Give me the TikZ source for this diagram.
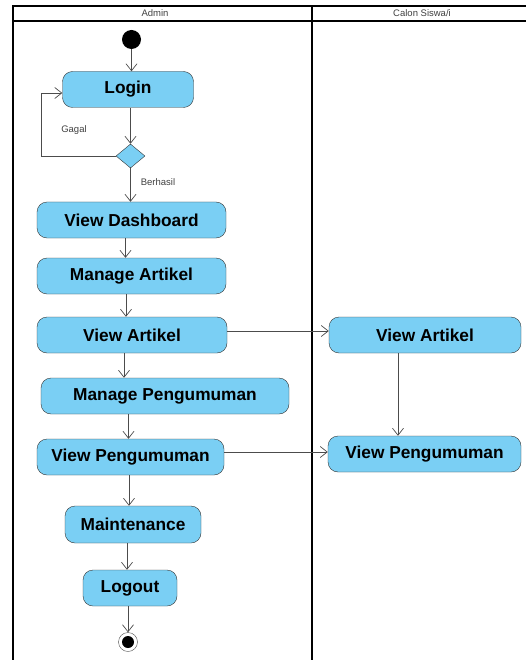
\documentclass[tikz,border=0pt]{standalone}
\usepackage{fontspec}
\setmainfont{Liberation Sans}
\usetikzlibrary{arrows.meta,shapes.geometric}

\tikzset{act/.style={draw=black!80,fill=actblue,rounded corners=10pt,font=\bfseries\fontsize{17.3}{20}\selectfont,minimum height=36pt,inner sep=0pt}}
\tikzset{flow/.style={->,>={Straight Barb[length=7pt,width=11pt]},draw=black!70,line width=0.7pt}}
\tikzset{small/.style={font=\fontsize{9.5}{11}\selectfont,text=black!75}}
\tikzset{lane/.style={line width=1.8pt}}
\definecolor{actblue}{HTML}{7ACFF4}

\begin{document}
\begin{tikzpicture}[x=1pt,y=-1pt]
        \useasboundingbox (0,0) rectangle (525,660);
        % swimlanes
        \draw[lane] (530,6) -- (13,6) -- (13,665);
        \draw[lane] (13,21) -- (530,21);
        \draw[lane] (312,6) -- (312,665);
        \node[small] (laneA) at (155,13.5) {Admin};
        \node[small] (laneB) at (422,13.5) {Calon Siswa/i};

        % admin lane
        \node[circle,fill=black,minimum size=19pt,inner sep=0pt] (start) at (131.5,39.5) {};
        \node[act,minimum width=131pt] (login) at (128,89.5) {Login};
        \node[diamond,draw=black!80,fill=actblue,minimum width=29pt,minimum height=24pt,inner sep=0pt] (dec) at (130.5,156) {};
        \node[act,minimum width=189pt] (dash) at (131.5,220) {View Dashboard};
        \node[act,minimum width=189pt] (mart) at (131.5,276) {Manage Artikel};
        \node[act,minimum width=190pt] (vart) at (132,335) {View Artikel};
        \node[act,minimum width=248pt] (mpeng) at (165,396) {Manage Pengumuman};
        \node[act,minimum width=187pt] (vpeng) at (130.5,457) {View Pengumuman};
        \node[act,minimum width=136pt,minimum height=37pt] (maint) at (133,524.5) {Maintenance};
        \node[act,minimum width=94pt] (logout) at (130,588) {Logout};
        \node[circle,draw=black!70,minimum size=19pt,inner sep=0pt] (stop) at (128,642) {};
        \node[circle,fill=black,minimum size=12pt,inner sep=0pt] at (stop) {};

        % siswa lane
        \node[act,minimum width=192pt] (vart2) at (425,335) {View Artikel};
        \node[act,minimum width=193pt] (vpeng2) at (424.5,454) {View Pengumuman};

        % flows
        \draw[flow] (start) -- (start |- login.north);
        \draw[flow] (login.south -| dec) -- (dec.north);
        \draw[flow] (dec.west) -- ++(-74,0) |- ([yshift=-3.5pt]login.west);
        \node[small] (gagal) at (74,130) {Gagal};
        \draw[flow] (dec.south) -- (dec.south |- dash.north);
        \node[small] (ok) at (158,182) {Berhasil};
        \draw[flow] ([xshift=-6pt]dash.south) -- ([xshift=-6pt]dash.south |- mart.north);
        \draw[flow] ([xshift=-5.5pt]mart.south) -- ([xshift=-5.5pt]mart.south |- vart.north);
        \draw[flow] ([xshift=-8pt]vart.south) -- ([xshift=-8pt]vart.south |- mpeng.north);
        \draw[flow] ([xshift=-2pt]vpeng.north |- mpeng.south) -- ([xshift=-2pt]vpeng.north);
        \draw[flow] ([xshift=-1.5pt]vpeng.south) -- ([xshift=-1.5pt]vpeng.south |- maint.north);
        \draw[flow] ([xshift=-3pt]logout.north |- maint.south) -- ([xshift=-3pt]logout.north);
        \draw[flow] (stop |- logout.south) -- (stop.north);
        \draw[flow] ([yshift=4pt]vart.east) -- ([yshift=4pt]vart.east -| vart2.west);
        \draw[flow] ([yshift=5pt]vpeng.east) -- ([yshift=5pt]vpeng.east -| vpeng2.west);
        \draw[flow] ([xshift=-27pt]vart2.south) -- ([xshift=-27pt]vart2.south |- vpeng2.north);
\end{tikzpicture}
\end{document}
